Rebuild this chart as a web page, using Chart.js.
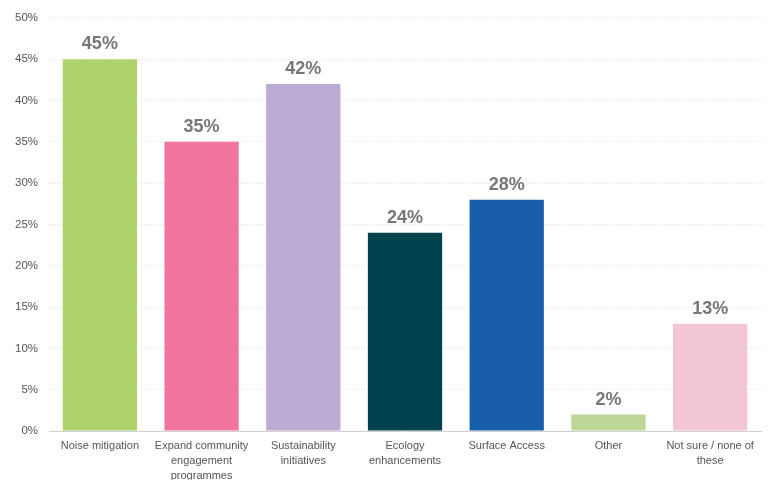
<!DOCTYPE html>
<html>
<head>
<meta charset="utf-8">
<script src="https://cdn.jsdelivr.net/npm/chart.js@4"></script>
<style>
  html, body { margin: 0; padding: 0; background: #fff; }
  #wrap { width: 771px; height: 480px; }
</style>
</head>
<body>
<div id="wrap"><canvas id="chart"></canvas></div>
<script>
const categories = [
  "Noise mitigation",
  ["Expand community", "engagement", "programmes"],
  ["Sustainability", "initiatives"],
  ["Ecology", "enhancements"],
  "Surface Access",
  "Other",
  ["Not sure / none of", "these"]
];
const values = [45, 35, 42, 24, 28, 2, 13];
const barColors = ["#aed36b", "#f0749c", "#bcabd3", "#00424d", "#1a5ea9", "#bed696", "#f2c6d4"];

// value labels above bars
const valueLabels = {
  id: "valueLabels",
  afterDatasetsDraw(chart) {
    const ctx = chart.ctx;
    const meta = chart.getDatasetMeta(0);
    ctx.save();
    ctx.font = "bold 18px 'Liberation Sans', Arial, sans-serif";
    ctx.fillStyle = "#777777";
    ctx.textAlign = "center";
    ctx.textBaseline = "bottom";
    meta.data.forEach((bar, i) => {
      ctx.fillText(values[i] + "%", bar.x, bar.y - 6);
    });
    ctx.restore();
  }
};

new Chart(document.getElementById("chart"), {
  type: "bar",
  data: {
    labels: categories,
    datasets: [{
      data: values,
      backgroundColor: barColors,
      borderWidth: 0,
      barPercentage: 0.73,
      categoryPercentage: 1
    }]
  },
  options: {
    responsive: true,
    maintainAspectRatio: false,
    animation: false,
    layout: { padding: { top: 3, right: 10, left: 4, bottom: -3 } },
    plugins: {
      legend: { display: false },
      tooltip: { enabled: false }
    },
    scales: {
      x: {
        grid: { display: false },
        border: { color: "#d0d0d0", width: 1 },
        ticks: {
          color: "#555",
          font: { family: "'Liberation Sans', Arial, sans-serif", size: 11, lineHeight: 1.33 },
          maxRotation: 0,
          autoSkip: false,
          padding: 0
        }
      },
      y: {
        min: 0,
        max: 50,
        grid: { color: "#e2e2e2", lineWidth: 1, drawTicks: false },
        border: { display: false, dash: [1, 2] },
        ticks: {
          stepSize: 5,
          color: "#555",
          padding: 11,
          font: { family: "'Liberation Sans', Arial, sans-serif", size: 11.5 },
          callback: v => v + "%"
        }
      }
    }
  },
  plugins: [valueLabels]
});
</script>
</body>
</html>
